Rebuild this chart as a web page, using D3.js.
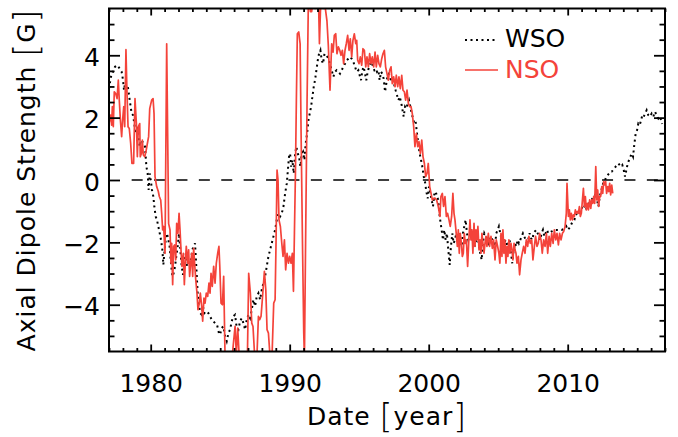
<!DOCTYPE html>
<html>
<head>
<meta charset="utf-8">
<script src="https://cdn.jsdelivr.net/npm/d3@7"></script>
<style>
  body { margin: 0; background: #fff; }
  text { font-family: "DejaVu Sans", sans-serif; }
</style>
</head>
<body>
<div id="chart"></div>
<script>
// NSO axial dipole (red, solid)
var nsoYear = [1977.00,1977.12,1977.19,1977.24,1977.31,1977.38,1977.48,1977.58,1977.67,1977.74,1977.82,1977.91,1977.98,1978.06,1978.13,1978.22,1978.29,1978.37,1978.46,1978.56,1978.65,1978.77,1978.87,1978.97,1979.04,1979.11,1979.21,1979.25,1979.33,1979.40,1979.47,1979.57,1979.66,1979.76,1979.85,1979.93,1980.07,1980.17,1980.24,1980.31,1980.43,1980.55,1980.62,1980.72,1980.79,1980.86,1980.93,1981.03,1981.15,1981.29,1981.39,1981.46,1981.51,1981.58,1981.65,1981.72,1981.80,1981.87,1981.96,1982.04,1982.11,1982.18,1982.25,1982.35,1982.42,1982.49,1982.56,1982.66,1982.73,1982.80,1982.88,1982.95,1983.02,1983.09,1983.16,1983.24,1983.33,1983.40,1983.50,1983.57,1983.67,1983.74,1983.83,1983.91,1984.00,1984.10,1984.19,1984.27,1984.34,1984.43,1984.53,1984.63,1984.72,1984.82,1984.91,1984.97,1985.06,1985.16,1985.25,1985.35,1985.59,1985.83,1986.07,1986.16,1986.26,1986.36,1986.55,1986.79,1986.96,1987.05,1987.17,1987.27,1987.36,1987.46,1987.63,1987.75,1987.84,1987.94,1988.03,1988.18,1988.28,1988.37,1988.47,1988.56,1988.71,1988.85,1988.95,1989.02,1989.09,1989.16,1989.23,1989.33,1989.43,1989.52,1989.62,1989.71,1989.81,1989.91,1990.00,1990.10,1990.19,1990.27,1990.34,1990.41,1990.48,1990.55,1990.65,1990.75,1990.82,1990.91,1991.01,1991.06,1991.15,1991.25,1991.35,1991.49,1991.58,1991.73,1991.82,1991.97,1992.06,1992.14,1992.21,1992.30,1992.45,1992.55,1992.68,1992.78,1992.90,1993.02,1993.12,1993.21,1993.31,1993.40,1993.50,1993.60,1993.69,1993.79,1993.88,1993.98,1994.07,1994.17,1994.27,1994.36,1994.46,1994.55,1994.65,1994.75,1994.82,1994.89,1994.99,1995.08,1995.18,1995.27,1995.37,1995.47,1995.56,1995.66,1995.75,1995.85,1995.94,1996.04,1996.14,1996.23,1996.33,1996.42,1996.52,1996.62,1996.71,1996.81,1996.90,1997.00,1997.10,1997.19,1997.29,1997.38,1997.48,1997.58,1997.67,1997.77,1997.86,1997.96,1998.06,1998.15,1998.25,1998.34,1998.44,1998.54,1998.63,1998.73,1998.82,1998.92,1999.01,1999.11,1999.21,1999.30,1999.40,1999.50,1999.59,1999.69,1999.78,1999.88,1999.97,2000.07,2000.17,2000.26,2000.36,2000.45,2000.57,2000.69,2000.81,2000.88,2000.98,2001.07,2001.17,2001.27,2001.36,2001.46,2001.55,2001.65,2001.74,2001.82,2001.89,2001.98,2002.06,2002.13,2002.20,2002.27,2002.35,2002.42,2002.49,2002.56,2002.63,2002.71,2002.80,2002.90,2002.97,2003.04,2003.11,2003.18,2003.26,2003.33,2003.40,2003.47,2003.54,2003.62,2003.69,2003.76,2003.83,2003.90,2003.98,2004.05,2004.12,2004.19,2004.29,2004.38,2004.48,2004.58,2004.67,2004.77,2004.86,2004.96,2005.05,2005.12,2005.20,2005.27,2005.34,2005.41,2005.48,2005.56,2005.63,2005.70,2005.77,2005.84,2005.92,2005.99,2006.06,2006.14,2006.21,2006.28,2006.35,2006.45,2006.54,2006.64,2006.73,2006.83,2006.93,2007.02,2007.12,2007.21,2007.31,2007.41,2007.50,2007.60,2007.69,2007.79,2007.88,2007.98,2008.08,2008.17,2008.27,2008.37,2008.47,2008.56,2008.66,2008.75,2008.85,2008.95,2009.04,2009.14,2009.23,2009.33,2009.42,2009.52,2009.62,2009.71,2009.81,2009.90,2009.95,2010.00,2010.05,2010.12,2010.19,2010.26,2010.34,2010.41,2010.48,2010.55,2010.62,2010.70,2010.77,2010.84,2010.91,2010.98,2011.06,2011.13,2011.20,2011.27,2011.34,2011.42,2011.49,2011.58,2011.66,2011.73,2011.80,2011.87,2011.94,2012.02,2012.09,2012.16,2012.23,2012.30,2012.37,2012.45,2012.52,2012.59,2012.66,2012.73,2012.80,2012.88,2012.95,2013.02,2013.09,2013.17,2013.24];
var nsoVal = [1.81,2.08,1.76,2.35,1.71,2.83,2.77,2.61,3.20,2.56,1.92,1.39,1.92,2.35,1.71,4.18,2.88,1.71,1.65,1.17,0.53,0.53,2.61,1.81,0.75,1.71,1.81,0.75,0.85,1.28,0.80,0.75,0.91,1.17,1.39,2.29,2.56,2.61,2.13,0.11,-0.21,-0.37,-0.53,-0.64,-1.07,-1.60,-1.49,-2.35,4.37,-1.40,-1.60,-2.67,-2.03,-3.36,-2.13,-2.08,-2.56,-1.39,-1.71,-1.07,-1.60,-2.24,-2.77,-2.35,-3.36,-2.67,-2.13,-2.67,-2.24,-3.09,-2.67,-2.35,-3.09,-2.19,-2.67,-3.20,-3.63,-4.16,-3.95,-3.63,-4.05,-4.53,-3.79,-3.95,-3.63,-3.73,-3.31,-3.63,-2.99,-3.41,-2.77,-3.31,-2.67,-2.35,-2.13,-2.77,-3.95,-4.00,-3.09,-5.70,-5.90,-5.80,-4.69,-5.60,-4.75,-5.60,-6.00,-5.80,-5.60,-2.99,-3.63,-4.59,-4.70,-5.50,-5.80,-4.37,-4.48,-4.37,-3.84,-2.93,-3.52,-4.80,-4.91,-5.50,-5.90,-3.95,-3.84,-1.92,0.32,0.00,-1.28,-1.49,-2.03,-2.45,-1.92,-2.88,-2.35,-2.67,-2.45,-2.67,-2.35,-3.57,-1.70,0.13,2.56,4.69,4.75,4.37,1.49,-1.70,-4.90,-5.70,-1.70,2.56,6.00,5.40,5.40,6.00,5.50,5.55,6.00,4.37,5.40,6.00,5.50,5.55,5.10,4.30,2.88,4.37,4.10,4.64,4.69,4.05,4.27,4.16,4.00,4.16,3.73,4.16,4.37,4.64,4.16,4.53,3.95,4.48,4.69,4.37,4.48,3.84,3.73,3.95,3.68,4.21,4.16,3.63,3.95,3.63,4.05,3.73,3.95,3.63,4.10,3.63,4.00,3.73,3.63,3.89,4.05,4.16,3.63,3.41,3.20,3.52,3.63,3.09,3.31,2.99,3.36,2.99,3.31,2.93,3.36,2.88,2.83,2.56,2.88,2.45,2.35,2.35,2.13,1.71,1.07,1.49,1.07,1.23,0.85,1.28,0.75,0.53,0.11,0.21,0.53,-0.21,-0.43,-0.64,-0.59,-0.58,-0.64,-0.85,-1.17,-0.53,-0.43,-0.85,-0.53,-1.17,-1.07,-1.28,-1.49,-1.17,-0.43,-1.07,-1.28,-1.71,-2.13,-1.60,-2.35,-1.71,-2.03,-2.45,-2.35,-1.71,-2.03,-1.92,-2.77,-1.81,-1.28,-1.92,-1.60,-2.35,-1.39,-2.13,-1.60,-1.92,-1.49,-2.24,-1.92,-2.35,-1.71,-2.03,-2.35,-2.03,-1.81,-2.13,-1.71,-2.13,-1.81,-2.19,-1.92,-2.56,-1.92,-2.13,-2.35,-2.67,-1.71,-2.45,-1.60,-2.35,-1.92,-2.67,-2.13,-2.45,-1.92,-2.35,-2.03,-2.24,-2.56,-2.03,-2.24,-2.35,-2.67,-2.45,-3.04,-2.56,-2.35,-2.13,-2.35,-1.92,-2.13,-1.81,-2.03,-1.92,-2.56,-2.13,-1.81,-2.13,-2.03,-1.71,-1.92,-2.35,-1.92,-2.13,-1.71,-2.35,-1.81,-2.13,-1.71,-2.03,-1.60,-1.92,-1.71,-2.08,-1.71,-1.92,-1.71,-1.65,-1.49,-1.07,-0.11,-0.64,-1.17,-0.96,-1.28,-1.07,-1.28,-1.12,-1.17,-0.96,-1.07,-1.01,-1.07,-0.85,-1.17,-1.07,-0.64,-0.27,-0.85,-0.53,-0.96,-0.75,-0.96,-0.64,-0.91,-0.64,-0.75,-0.53,-0.75,0.43,-0.64,-0.32,-0.85,-0.53,-0.53,-0.21,-0.43,-0.05,-0.16,-0.05,-0.43,-0.21,-0.37,-0.11,-0.48,-0.16,-0.43];

// WSO axial dipole (black, dotted)
var wsoYear = [1977.00,1977.14,1977.29,1977.43,1977.62,1977.77,1977.91,1978.01,1978.08,1978.15,1978.25,1978.34,1978.41,1978.49,1978.56,1978.63,1978.73,1978.82,1978.92,1979.01,1979.11,1979.21,1979.30,1979.40,1979.49,1979.59,1979.69,1979.78,1979.85,1979.93,1980.02,1980.09,1980.19,1980.26,1980.36,1980.45,1980.55,1980.65,1980.74,1980.84,1980.91,1980.98,1981.08,1981.17,1981.27,1981.36,1981.46,1981.56,1981.65,1981.75,1981.84,1981.94,1982.04,1982.13,1982.23,1982.32,1982.42,1982.52,1982.61,1982.71,1982.80,1982.90,1982.99,1983.09,1983.19,1983.28,1983.38,1983.47,1983.57,1983.67,1983.76,1983.86,1984.00,1984.15,1984.27,1984.39,1984.51,1984.63,1984.77,1984.91,1984.99,1985.11,1985.23,1985.35,1985.47,1985.59,1985.71,1985.83,1985.95,1986.07,1986.19,1986.31,1986.43,1986.55,1986.67,1986.79,1986.91,1987.03,1987.15,1987.27,1987.39,1987.51,1987.63,1987.75,1987.87,1987.99,1988.11,1988.23,1988.35,1988.47,1988.59,1988.71,1988.83,1988.95,1989.07,1989.19,1989.31,1989.43,1989.55,1989.67,1989.79,1989.86,1989.95,1990.03,1990.10,1990.19,1990.29,1990.39,1990.48,1990.58,1990.67,1990.77,1990.87,1990.96,1991.06,1991.15,1991.25,1991.35,1991.44,1991.54,1991.63,1991.73,1991.82,1991.92,1992.02,1992.11,1992.21,1992.30,1992.40,1992.50,1992.64,1992.78,1993.02,1993.14,1993.26,1993.38,1993.50,1993.62,1993.74,1993.86,1993.98,1994.10,1994.22,1994.34,1994.46,1994.58,1994.70,1994.82,1994.94,1995.06,1995.13,1995.23,1995.32,1995.42,1995.51,1995.61,1995.71,1995.80,1995.90,1995.99,1996.09,1996.19,1996.28,1996.38,1996.47,1996.57,1996.66,1996.76,1996.86,1996.95,1997.05,1997.14,1997.24,1997.34,1997.43,1997.53,1997.62,1997.72,1997.82,1997.91,1998.01,1998.10,1998.20,1998.30,1998.39,1998.49,1998.58,1998.68,1998.78,1998.87,1998.97,1999.06,1999.16,1999.25,1999.35,1999.45,1999.54,1999.64,1999.73,1999.83,1999.93,2000.02,2000.12,2000.21,2000.31,2000.41,2000.50,2000.60,2000.69,2000.79,2000.93,2001.03,2001.12,2001.22,2001.31,2001.41,2001.51,2001.60,2001.70,2001.79,2001.89,2001.98,2002.08,2002.18,2002.27,2002.37,2002.46,2002.56,2002.66,2002.75,2002.85,2002.94,2003.04,2003.14,2003.23,2003.33,2003.42,2003.52,2003.62,2003.71,2003.81,2003.90,2004.00,2004.10,2004.19,2004.29,2004.38,2004.48,2004.57,2004.67,2004.77,2004.86,2004.96,2005.05,2005.15,2005.25,2005.34,2005.44,2005.53,2005.63,2005.73,2005.82,2005.92,2006.01,2006.11,2006.21,2006.30,2006.40,2006.49,2006.59,2006.69,2006.78,2006.88,2006.97,2007.07,2007.16,2007.26,2007.36,2007.45,2007.55,2007.64,2007.74,2007.84,2007.93,2008.03,2008.12,2008.22,2008.32,2008.41,2008.51,2008.60,2008.85,2009.09,2009.33,2009.57,2009.81,2009.90,2010.00,2010.10,2010.19,2010.29,2010.38,2010.48,2010.58,2010.67,2010.77,2010.86,2010.96,2011.06,2011.15,2011.25,2011.34,2011.44,2011.54,2011.63,2011.73,2011.82,2011.92,2012.02,2012.11,2012.21,2012.30,2012.40,2012.49,2012.59,2012.69,2012.78,2012.88,2012.97,2013.07,2013.17,2013.26,2013.36,2013.45,2013.55,2013.65,2013.74,2013.84,2013.93,2014.03,2014.12,2014.32,2014.41,2014.51,2014.60,2014.70,2014.80,2014.89,2014.99,2015.08,2015.18,2015.28,2015.37,2015.47,2015.56,2015.68,2015.80,2015.92,2016.04,2016.16,2016.28,2016.40,2016.52,2016.64,2016.80];
var wsoVal = [2.93,3.31,3.47,3.63,3.68,3.57,3.47,3.20,2.88,3.09,2.99,3.04,2.83,2.56,2.35,2.13,2.08,1.81,1.49,1.71,1.49,1.07,1.28,1.23,1.17,1.07,0.43,0.21,-0.32,0.21,-0.05,-0.32,-0.53,-0.85,-1.17,-1.28,-1.49,-1.71,-1.92,-2.24,-2.72,-2.35,-1.92,-1.71,-1.92,-2.13,-2.67,-3.09,-2.99,-2.77,-2.45,-2.13,-1.71,-2.24,-2.77,-3.04,-2.67,-2.35,-2.77,-2.56,-2.77,-2.56,-2.24,-2.13,-2.03,-2.77,-3.63,-4.00,-4.27,-4.32,-4.05,-4.27,-4.21,-4.27,-4.37,-4.48,-4.53,-4.59,-4.64,-4.91,-4.96,-4.75,-4.69,-5.01,-5.17,-4.91,-4.80,-4.53,-4.37,-4.32,-4.75,-4.80,-4.53,-4.43,-4.59,-4.80,-4.48,-4.32,-4.43,-4.16,-3.84,-4.05,-3.73,-3.63,-3.84,-3.52,-3.31,-3.09,-2.77,-2.45,-2.24,-2.03,-1.81,-1.60,-1.28,-1.07,-1.17,-1.07,-0.85,-0.43,-0.11,0.27,0.75,0.85,0.43,0.64,0.21,0.85,1.07,0.85,0.75,0.43,0.85,0.91,0.64,1.17,1.49,1.92,2.13,2.35,2.67,2.99,3.20,3.52,3.84,4.05,4.16,3.84,3.73,4.05,4.00,3.90,3.52,3.31,3.47,3.52,3.47,3.41,3.52,3.63,3.73,3.84,3.89,3.95,3.89,3.79,3.63,3.47,3.52,3.31,3.20,3.52,3.63,3.41,3.20,3.47,3.63,3.73,3.79,3.63,3.52,3.57,3.47,3.52,3.20,3.47,3.41,3.25,2.83,3.09,3.36,3.41,3.25,3.15,3.31,3.04,2.88,2.72,2.56,2.67,2.51,2.29,2.03,2.35,2.29,2.45,2.56,2.35,2.13,1.97,1.81,1.87,1.49,1.17,0.85,0.64,0.43,0.11,-0.05,-0.37,-0.59,-0.21,-0.43,-0.64,-0.85,-0.43,-0.37,-0.53,-0.64,-1.17,-1.60,-1.92,-1.60,-1.92,-1.71,-2.24,-2.72,-2.13,-1.71,-2.03,-1.92,-1.71,-1.92,-1.71,-1.92,-2.13,-1.71,-1.49,-1.28,-1.71,-1.92,-1.81,-1.71,-1.92,-1.81,-2.13,-1.92,-1.71,-2.13,-2.35,-2.56,-2.03,-1.71,-1.81,-1.92,-2.03,-1.92,-1.81,-1.92,-2.03,-2.13,-1.71,-1.60,-1.49,-1.71,-1.92,-1.81,-2.03,-1.92,-2.13,-2.03,-1.92,-2.35,-2.67,-2.24,-2.03,-2.13,-1.92,-2.03,-1.92,-1.81,-1.71,-1.81,-1.92,-2.03,-1.92,-1.71,-1.87,-1.92,-1.71,-1.65,-1.60,-1.71,-1.81,-1.92,-1.71,-1.60,-1.81,-1.71,-1.60,-1.71,-1.65,-1.60,-1.60,-1.60,-1.55,-1.49,-1.60,-1.55,-1.49,-1.39,-1.33,-1.28,-1.12,-1.07,-1.12,-1.07,-0.96,-0.85,-0.91,-0.80,-0.91,-0.85,-0.75,-0.69,-0.64,-0.53,-0.53,-0.43,-0.64,-0.85,-0.53,-0.37,-0.21,-0.05,0.00,0.11,0.16,0.21,0.27,0.27,0.32,0.37,0.43,0.48,0.53,0.48,0.43,0.48,0.32,0.11,0.53,0.64,0.75,0.85,0.75,1.17,1.49,1.60,1.81,1.76,1.92,2.08,2.03,2.13,2.24,2.08,2.03,2.13,2.03,2.19,2.08,1.97,2.03,1.80];

var xMajor = [1980, 1990, 2000, 2010];
var yMajor = [-4, -2, 0, 2, 4];

var width = 678,
    height = 437;

var red = "#f4433a";

var x = d3.scaleLinear().domain([1977, 2017]).range([109, 665]);
var y = d3.scaleLinear().domain([-5.5, 5.5]).range([351.5, 8.5]);

var xMinor = d3.range(1977, 2018).filter(function(d) { return xMajor.indexOf(d) < 0; });
var yMinor = d3.range(-5, 5.01, 0.5).filter(function(d) { return yMajor.indexOf(d) < 0; });

var svg = d3.select("#chart").append("svg")
    .attr("width", width)
    .attr("height", height);

svg.append("defs").append("clipPath")
    .attr("id", "plotclip")
  .append("rect")
    .attr("x", x(1977))
    .attr("y", y(5.5))
    .attr("width", x(2017) - x(1977))
    .attr("height", y(-5.5) - y(5.5));

// zero line
svg.append("line")
    .attr("x1", x(1978.63))
    .attr("x2", x(2017))
    .attr("y1", y(0))
    .attr("y2", y(0))
    .attr("stroke", "#000")
    .attr("stroke-width", 1.6)
    .attr("stroke-dasharray", "11,11.4");

var line = d3.line()
    .x(function(d) { return x(d[0]); })
    .y(function(d) { return y(d[1]); });

var plot = svg.append("g").attr("clip-path", "url(#plotclip)");

plot.append("path")
    .datum(d3.zip(wsoYear, wsoVal))
    .attr("fill", "none")
    .attr("stroke", "#000")
    .attr("stroke-width", 2)
    .attr("stroke-dasharray", "2,3.5")
    .attr("d", line);

plot.append("path")
    .datum(d3.zip(nsoYear, nsoVal))
    .attr("fill", "none")
    .attr("stroke", red)
    .attr("stroke-width", 1.7)
    .attr("stroke-linejoin", "round")
    .attr("d", line);

// axes: ticks point inward on all four sides
function styleAxis(g) {
    g.select(".domain").remove();
    g.selectAll(".tick line").attr("stroke-width", 1.8);
    g.selectAll("text").attr("font-size", 25).attr("font-family", "DejaVu Sans").attr("fill", "#000");
}

svg.append("g")
    .attr("transform", "translate(0," + y(-5.5) + ")")
    .call(d3.axisBottom(x).tickValues(xMajor).tickFormat(d3.format("d")).tickSizeInner(-7).tickSizeOuter(0).tickPadding(23))
    .call(styleAxis);
svg.append("g")
    .attr("transform", "translate(0," + y(-5.5) + ")")
    .call(d3.axisBottom(x).tickValues(xMinor).tickFormat("").tickSizeInner(-3.5).tickSizeOuter(0))
    .call(styleAxis);
svg.append("g")
    .attr("transform", "translate(0," + y(5.5) + ")")
    .call(d3.axisTop(x).tickValues(xMajor).tickFormat("").tickSizeInner(-7).tickSizeOuter(0))
    .call(styleAxis);
svg.append("g")
    .attr("transform", "translate(0," + y(5.5) + ")")
    .call(d3.axisTop(x).tickValues(xMinor).tickFormat("").tickSizeInner(-3.5).tickSizeOuter(0))
    .call(styleAxis);

var yLeft = svg.append("g")
    .attr("transform", "translate(" + x(1977) + ",0)")
    .call(d3.axisLeft(y).tickValues(yMajor).tickFormat(d3.format("d")).tickSizeInner(-11).tickSizeOuter(0).tickPadding(9))
    .call(styleAxis);
yLeft.selectAll("text").attr("dy", "0.4em");
svg.append("g")
    .attr("transform", "translate(" + x(1977) + ",0)")
    .call(d3.axisLeft(y).tickValues(yMinor).tickFormat("").tickSizeInner(-5.5).tickSizeOuter(0))
    .call(styleAxis);
svg.append("g")
    .attr("transform", "translate(" + x(2017) + ",0)")
    .call(d3.axisRight(y).tickValues(yMajor).tickFormat("").tickSizeInner(-11).tickSizeOuter(0))
    .call(styleAxis);
svg.append("g")
    .attr("transform", "translate(" + x(2017) + ",0)")
    .call(d3.axisRight(y).tickValues(yMinor).tickFormat("").tickSizeInner(-5.5).tickSizeOuter(0))
    .call(styleAxis);

// frame
svg.append("rect")
    .attr("x", x(1977))
    .attr("y", y(5.5))
    .attr("width", x(2017) - x(1977))
    .attr("height", y(-5.5) - y(5.5))
    .attr("fill", "none")
    .attr("stroke", "#000")
    .attr("stroke-width", 2);

// axis titles, brackets drawn taller like the original
function titleText(sel, before, inside) {
    sel.append("tspan").text(before);
    sel.append("tspan").attr("font-size", 33).attr("font-weight", 300).attr("dy", 3).text("[");
    sel.append("tspan").attr("dy", -3).text(inside);
    sel.append("tspan").attr("font-size", 33).attr("font-weight", 300).attr("dy", 3).text("]");
}

svg.append("text")
    .attr("x", (x(1977) + x(2017)) / 2)
    .attr("y", 425)
    .attr("text-anchor", "middle")
    .attr("font-size", 25)
    .attr("letter-spacing", 1)
    .call(titleText, "Date ", "year");

svg.append("text")
    .attr("transform", "translate(35," + y(0) + ") rotate(-90)")
    .attr("text-anchor", "middle")
    .attr("font-size", 25)
    .attr("letter-spacing", 1)
    .call(titleText, "Axial Dipole Strength ", "G");

// legend
var legend = svg.append("g");
legend.append("line")
    .attr("x1", 465).attr("x2", 498)
    .attr("y1", 40).attr("y2", 40)
    .attr("stroke", "#000")
    .attr("stroke-width", 2)
    .attr("stroke-dasharray", "2,3.5");
legend.append("text")
    .attr("x", 505).attr("y", 47)
    .attr("font-size", 25)
    .attr("fill", "#000")
    .text("WSO");
legend.append("line")
    .attr("x1", 465).attr("x2", 498)
    .attr("y1", 70).attr("y2", 70)
    .attr("stroke", red)
    .attr("stroke-width", 1.7);
legend.append("text")
    .attr("x", 505).attr("y", 78)
    .attr("font-size", 25)
    .attr("fill", red)
    .text("NSO");
</script>
</body>
</html>
